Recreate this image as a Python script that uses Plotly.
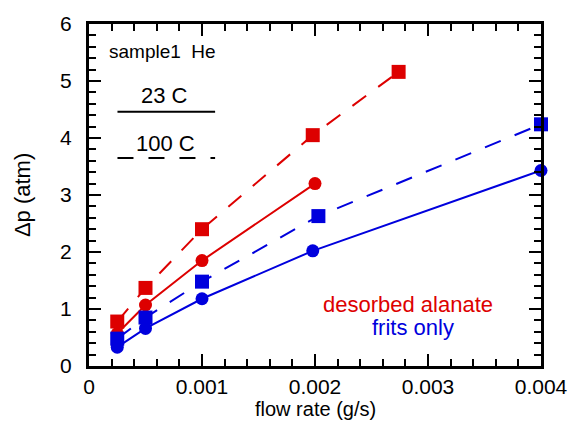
import plotly.graph_objects as go

# Data
red_sq_x = [0.00025, 0.0005, 0.001, 0.00198, 0.00274]
red_sq_y = [0.78, 1.37, 2.40, 4.05, 5.16]
red_ci_x = [0.00025, 0.0005, 0.001, 0.002]
red_ci_y = [0.57, 1.07, 1.85, 3.20]
blue_sq_x = [0.00025, 0.0005, 0.001, 0.00203, 0.004]
blue_sq_y = [0.48, 0.85, 1.48, 2.63, 4.24]
blue_ci_x = [0.00025, 0.0005, 0.001, 0.00198, 0.004]
blue_ci_y = [0.33, 0.66, 1.18, 2.02, 3.43]

x_tickvals = [0, 0.001, 0.002, 0.003, 0.004]
x_ticktext = ["0", "0.001", "0.002", "0.003", "0.004"]
y_tickvals = [0, 1, 2, 3, 4, 5, 6]
y_ticktext = ["0", "1", "2", "3", "4", "5", "6"]

RED = "#DD0000"
BLUE = "#0000DD"
FONT = "Arial, Liberation Sans, sans-serif"
DASH = "17px,15px"

fig = go.Figure()
fig.add_trace(go.Scatter(x=red_sq_x, y=red_sq_y, mode="lines+markers",
                         line=dict(color=RED, width=2, dash=DASH),
                         marker=dict(symbol="square", size=14, color=RED),
                         cliponaxis=False))
fig.add_trace(go.Scatter(x=red_ci_x, y=red_ci_y, mode="lines+markers",
                         line=dict(color=RED, width=2),
                         marker=dict(symbol="circle", size=13, color=RED),
                         cliponaxis=False))
fig.add_trace(go.Scatter(x=blue_sq_x, y=blue_sq_y, mode="lines+markers",
                         line=dict(color=BLUE, width=2, dash=DASH),
                         marker=dict(symbol="square", size=14, color=BLUE),
                         cliponaxis=False))
fig.add_trace(go.Scatter(x=blue_ci_x, y=blue_ci_y, mode="lines+markers",
                         line=dict(color=BLUE, width=2),
                         marker=dict(symbol="circle", size=13, color=BLUE),
                         cliponaxis=False))

axis_common = dict(showline=True, linecolor="black", linewidth=3, mirror="allticks",
                   ticks="inside", ticklen=12, tickwidth=2, tickcolor="black",
                   showgrid=False, zeroline=False,
                   tickfont=dict(family=FONT, size=21, color="black"))

fig.update_xaxes(range=[0, 0.004], tickmode="array", tickvals=x_tickvals, ticktext=x_ticktext,
                 minor=dict(dtick=0.0002, ticks="inside", ticklen=7, tickwidth=2, tickcolor="black"),
                 ticklabelstandoff=0, **axis_common)
fig.update_yaxes(range=[0, 6], tickmode="array", tickvals=y_tickvals, ticktext=y_ticktext,
                 minor=dict(dtick=0.2, ticks="inside", ticklen=7, tickwidth=2, tickcolor="black"),
                 ticklabelstandoff=10, **axis_common)

ann = []
ann.append(dict(x=0.5, y=-0.127, xref="paper", yref="paper", text="flow rate (g/s)", showarrow=False,
                font=dict(family=FONT, size=20, color="black"), xanchor="center", yanchor="middle"))
ann.append(dict(x=-0.148, y=0.5, xref="paper", yref="paper", text="Δp (atm)", showarrow=False,
                textangle=-90, font=dict(family=FONT, size=22, color="black"),
                xanchor="center", yanchor="middle"))
ann.append(dict(x=0.162, y=0.919, xref="paper", yref="paper", text="sample1  He", showarrow=False,
                font=dict(family=FONT, size=19, color="black"), xanchor="center", yanchor="middle"))
ann.append(dict(x=0.168, y=0.790, xref="paper", yref="paper", text="23 C", showarrow=False,
                font=dict(family=FONT, size=22, color="black"), xanchor="center", yanchor="middle"))
ann.append(dict(x=0.170, y=0.651, xref="paper", yref="paper", text="100 C", showarrow=False,
                font=dict(family=FONT, size=22, color="black"), xanchor="center", yanchor="middle"))
ann.append(dict(x=0.705, y=0.179, xref="paper", yref="paper", text="desorbed alanate", showarrow=False,
                font=dict(family=FONT, size=22, color=RED), xanchor="center", yanchor="middle"))
ann.append(dict(x=0.717, y=0.112, xref="paper", yref="paper", text="frits only", showarrow=False,
                font=dict(family=FONT, size=22, color=BLUE), xanchor="center", yanchor="middle"))

shapes = [
    dict(type="line", xref="paper", yref="paper", x0=0.063, x1=0.279, y0=0.7435, y1=0.7435,
         line=dict(color="black", width=2)),
    dict(type="line", xref="paper", yref="paper", x0=0.063, x1=0.279, y0=0.608, y1=0.608,
         line=dict(color="black", width=2, dash="16px,15px")),
]

fig.update_layout(width=580, height=421, margin=dict(l=89, r=33, t=19, b=55),
                  plot_bgcolor="white", paper_bgcolor="white", showlegend=False,
                  annotations=ann, shapes=shapes)

fig.write_html("out.html")
